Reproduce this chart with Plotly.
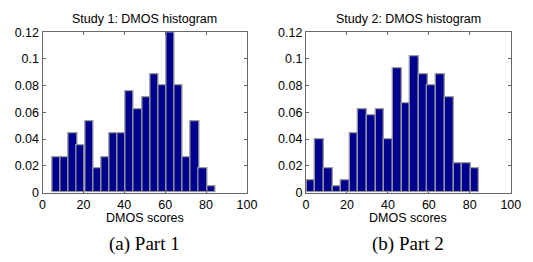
import plotly.graph_objects as go

# ---- data ----
study1_centers = [6.9, 10.9, 14.9, 18.8, 22.8, 26.8, 30.8, 34.8, 38.7, 42.7,
                  46.7, 50.7, 54.7, 58.6, 62.6, 66.6, 70.6, 74.6, 78.5, 82.5]
study1_freq = [0.0267, 0.0267, 0.0444, 0.0356, 0.0533, 0.0178, 0.0267, 0.0444, 0.0444, 0.0756,
               0.0622, 0.0711, 0.0889, 0.0800, 0.1200, 0.0800, 0.0267, 0.0533, 0.0178, 0.0044]

study2_centers = [2.5, 6.7, 10.9, 15.1, 19.3, 23.5, 27.7, 32.0, 36.2, 40.4,
                  44.6, 48.8, 53.0, 57.2, 61.4, 65.6, 69.9, 74.1, 78.3, 82.5]
study2_freq = [0.0089, 0.0400, 0.0178, 0.0044, 0.0089, 0.0444, 0.0622, 0.0578, 0.0622, 0.0400,
               0.0933, 0.0667, 0.1022, 0.0889, 0.0800, 0.0889, 0.0711, 0.0222, 0.0222, 0.0178]

panel_titles = ["Study 1: DMOS histogram", "Study 2: DMOS histogram"]
captions = ["(a) Part 1", "(b) Part 2"]
x_label = "DMOS scores"
x_ticks = [0, 20, 40, 60, 80, 100]
y_ticks = [0, 0.02, 0.04, 0.06, 0.08, 0.1, 0.12]

W, H = 533, 262
BAR = "#00008f"
EDGE = "#9a9a9a"
AX = "#666666"
FONT = "Liberation Sans, Arial, sans-serif"
FS = 12.5

fig = go.Figure()
fig.add_trace(go.Bar(x=study1_centers, y=study1_freq, width=3.98,
                     marker=dict(color=BAR, line=dict(color=EDGE, width=1.3)),
                     xaxis="x", yaxis="y", showlegend=False))
fig.add_trace(go.Bar(x=study2_centers, y=study2_freq, width=4.21,
                     marker=dict(color=BAR, line=dict(color=EDGE, width=1.3)),
                     xaxis="x2", yaxis="y2", showlegend=False))

xdoms = [[40.5 / W, 250 / W], [310.5 / W, 520.5 / W]]
ydom = [66 / H, 235.3 / H]

def xaxis(dom, anchor):
    return dict(domain=dom, anchor=anchor, range=[0, 100], tickvals=x_ticks,
                showline=True, linecolor=AX, linewidth=1, mirror="ticks",
                ticks="inside", ticklen=3, tickcolor=AX, showgrid=False,
                zeroline=False, tickfont=dict(family=FONT, size=FS, color="black"))

def yaxis(anchor):
    return dict(domain=ydom, anchor=anchor, range=[0, 0.12], tickvals=y_ticks,
                showline=True, linecolor=AX, linewidth=1, mirror="ticks",
                ticks="inside", ticklen=3, tickcolor=AX, showgrid=False,
                zeroline=False, tickfont=dict(family=FONT, size=FS, color="black"))

annotations = []
for i, dom in enumerate(xdoms):
    cx = (dom[0] + dom[1]) / 2
    annotations.append(dict(text=panel_titles[i], x=cx, y=(H - 13) / H,
                            xref="paper", yref="paper", xanchor="center", yanchor="middle",
                            showarrow=False, font=dict(family=FONT, size=FS, color="black")))
    annotations.append(dict(text=x_label, x=cx, y=(H - 223) / H,
                            xref="paper", yref="paper", xanchor="center", yanchor="middle",
                            showarrow=False, font=dict(family=FONT, size=FS, color="black")))
    annotations.append(dict(text=captions[i], x=cx, y=(H - 250) / H,
                            xref="paper", yref="paper", xanchor="center", yanchor="middle",
                            showarrow=False,
                            font=dict(family="Liberation Serif, Times New Roman, serif",
                                      size=19, color="black")))

fig.update_layout(
    width=W, height=H, margin=dict(l=0, r=0, t=0, b=0),
    paper_bgcolor="white", plot_bgcolor="white",
    xaxis=xaxis(xdoms[0], "y"), yaxis=yaxis("x"),
    xaxis2=xaxis(xdoms[1], "y2"), yaxis2=yaxis("x2"),
    annotations=annotations, bargap=0,
)

fig.write_html("out.html", config={"displayModeBar": False},
               post_script="document.body.style.margin='0';")
